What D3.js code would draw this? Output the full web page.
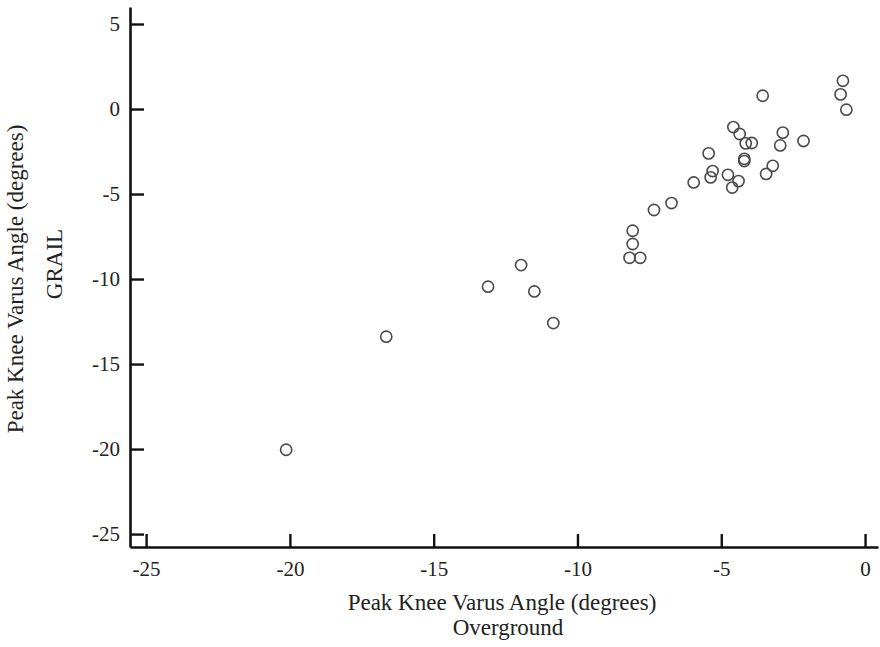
<!DOCTYPE html>
<html>
<head>
<meta charset="utf-8">
<script src="https://cdn.jsdelivr.net/npm/d3@7"></script>
<style>
  html, body { margin: 0; padding: 0; background: #fff; }
  svg { display: block; }
  text { font-family: "Liberation Serif", "Times New Roman", serif; fill: #222; }
</style>
</head>
<body>
<svg id="chart" width="880" height="647"></svg>
<script>
// Peak knee varus angle (degrees): overground (x) vs GRAIL (y)
const overground = [-20.13, -16.65, -13.11, -11.96, -11.50, -10.84, -8.08, -8.08, -8.19, -7.82,
  -7.34, -6.73, -5.96, -5.44, -5.30, -5.37, -4.77, -4.40, -4.62, -4.58,
  -4.36, -4.15, -3.94, -4.20, -4.20, -3.56, -3.44, -3.21, -2.86, -2.95,
  -2.14, -0.77, -0.85, -0.65];
const grail = [-20.04, -13.39, -10.45, -9.18, -10.73, -12.59, -7.16, -7.94, -8.75, -8.75,
  -5.94, -5.53, -4.32, -2.61, -3.65, -4.02, -3.87, -4.24, -4.62, -1.06,
  -1.47, -2.02, -2.00, -2.93, -3.06, 0.78, -3.82, -3.34, -1.39, -2.14,
  -1.88, 1.66, 0.86, -0.04];
const xTicks = [-25, -20, -15, -10, -5, 0];
const yTicks = [-25, -20, -15, -10, -5, 0, 5];
const xTitle = ["Peak Knee Varus Angle (degrees)", "Overground"];
const yTitle = ["Peak Knee Varus Angle (degrees)", "GRAIL"];

const svg = d3.select("#chart");
const x = d3.scaleLinear().domain([-25.56, 0.45]).range([130, 878]);
const y = d3.scaleLinear().domain([-25.76, 6.0]).range([547, 7]);

const gx = svg.append("g").attr("transform", "translate(0,547)")
  .call(d3.axisBottom(x).tickValues(xTicks).tickFormat(d => String(d))
    .tickSizeInner(-13).tickSizeOuter(0).tickPadding(14));
const gy = svg.append("g").attr("transform", "translate(130,0)")
  .call(d3.axisLeft(y).tickValues(yTicks).tickFormat(d => String(d))
    .tickSizeInner(-14).tickSizeOuter(0).tickPadding(10));

[gx, gy].forEach(g => {
  g.select(".domain").attr("stroke", "#111").attr("stroke-width", 2.6);
  g.selectAll(".tick line").attr("stroke", "#111").attr("stroke-width", 2.4);
  g.selectAll(".tick text").attr("font-family", "Liberation Serif, serif")
    .attr("font-size", 21).attr("fill", "#222");
});

svg.append("g").selectAll("circle")
  .data(overground.map((v, i) => [v, grail[i]]))
  .join("circle")
  .attr("cx", d => x(d[0]))
  .attr("cy", d => y(d[1]))
  .attr("r", 5.6)
  .attr("fill", "none")
  .attr("stroke", "#4a4a4a")
  .attr("stroke-width", 1.6);

// x title
svg.append("text").attr("x", 502).attr("y", 610).attr("text-anchor", "middle")
  .attr("font-size", 23).text(xTitle[0]);
svg.append("text").attr("x", 508).attr("y", 635).attr("text-anchor", "middle")
  .attr("font-size", 23).text(xTitle[1]);

// y title
svg.append("text").attr("transform", "translate(23,279) rotate(-90)")
  .attr("text-anchor", "middle").attr("font-size", 23).text(yTitle[0]);
svg.append("text").attr("transform", "translate(62,264) rotate(-90)")
  .attr("text-anchor", "middle").attr("font-size", 23).text(yTitle[1]);
</script>
</body>
</html>
